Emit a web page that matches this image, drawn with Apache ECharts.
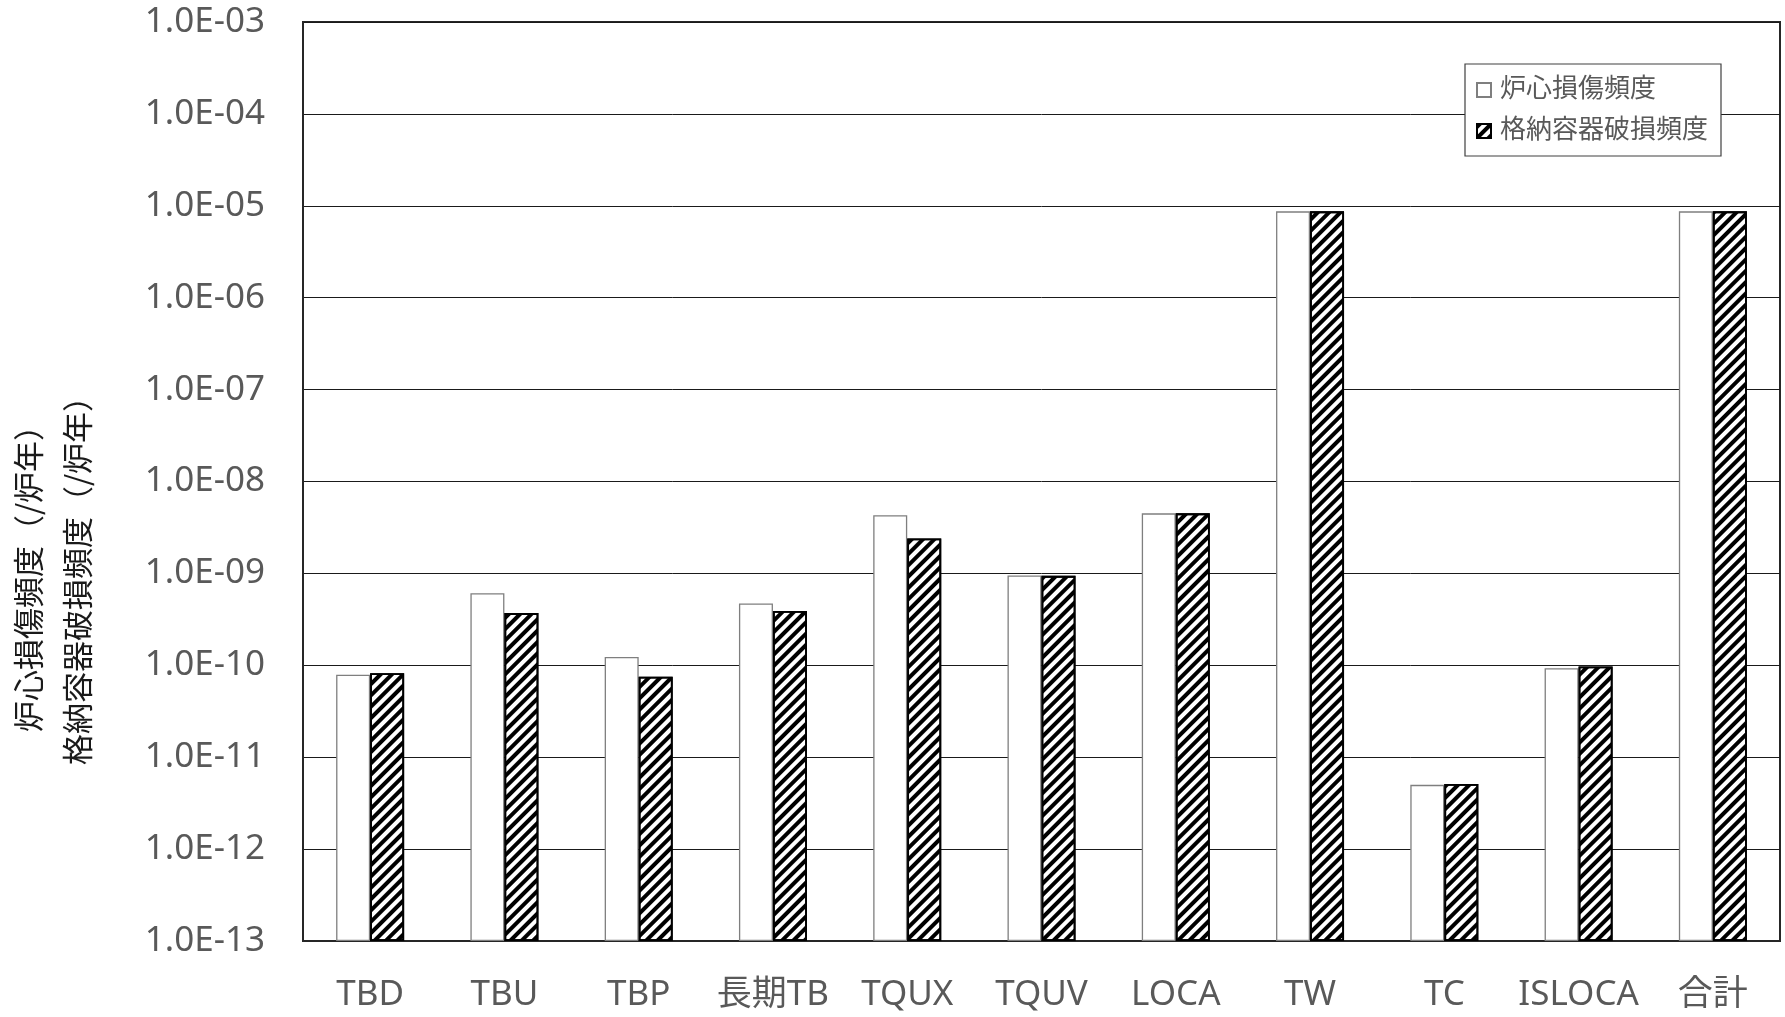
<!DOCTYPE html>
<html><head><meta charset="utf-8">
<script src="https://cdn.jsdelivr.net/npm/echarts@6/dist/echarts.min.js"></script>
<style>html,body{margin:0;padding:0;background:#fff}#c{width:1785px;height:1017px}</style>
</head><body><div id="c"></div>
<script>
// Data (per reactor-year)
const categories = ['TBD','TBU','TBP','長期TB','TQUX','TQUV','LOCA','TW','TC','ISLOCA','合計'];
const coreDamageFreq = [7.9e-11, 6.1e-10, 1.23e-10, 4.7e-10, 4.3e-9, 9.5e-10, 4.5e-9, 8.7e-6, 5.0e-12, 9.3e-11, 8.7e-6];
const containmentFailureFreq = [8.2e-11, 3.7e-10, 7.5e-11, 3.9e-10, 2.4e-9, 9.4e-10, 4.5e-9, 8.7e-6, 5.1e-12, 9.7e-11, 8.7e-6];
const seriesNames = ['炉心損傷頻度','格納容器破損頻度'];
const yAxisTitles = ['炉心損傷頻度（/炉年）','格納容器破損頻度（/炉年）'];
const axisFloor = 1e-13;   // bottom of the log axis
const axisCeil = 1e-3;     // top of the log axis

// bars on a log axis grow from value 1, so values are expressed relative to the floor
const rel = v => v / axisFloor;
const fmt = v => {
  const e = Math.round(Math.log10(v * axisFloor));
  return '1.0E' + (e < 0 ? '-' : '+') + String(Math.abs(e)).padStart(2, '0');
};

const FONT = "'Noto Sans', 'Noto Sans CJK JP', sans-serif";
const chart = echarts.init(document.getElementById('c'), null, {renderer: 'canvas'});
chart.setOption({
  animation: false,
  backgroundColor: '#ffffff',
  textStyle: {fontFamily: FONT},
  grid: {left: 303, top: 22, right: 5, bottom: 76, show: true, borderColor: '#262626', borderWidth: 2, backgroundColor: 'transparent'},
  legend: {
    orient: 'vertical', left: 1465, top: 64,
    padding: [13, 13, 12, 11], itemGap: 15,
    itemWidth: 14, itemHeight: 14, icon: 'rect',
    backgroundColor: '#fff', borderColor: '#404040', borderWidth: 1.2,
    textStyle: {fontSize: 26, color: '#595959', fontFamily: FONT, lineHeight: 26, padding: [0, 0, 0, 4]},
    data: seriesNames
  },
  xAxis: {
    type: 'category', data: categories,
    axisLine: {lineStyle: {color: '#262626', width: 2}},
    axisTick: {show: false},
    axisLabel: {fontSize: 35, color: '#595959', margin: 37, fontFamily: FONT, interval: 0},
    splitLine: {show: false}
  },
  yAxis: {
    type: 'log', logBase: 10, min: rel(axisFloor), max: rel(axisCeil), interval: 1, splitNumber: 10,
    axisLine: {show: true, lineStyle: {color: '#262626', width: 2}},
    axisTick: {show: false},
    axisLabel: {fontSize: 35, color: '#595959', margin: 38, fontFamily: FONT, formatter: fmt},
    splitLine: {show: true, lineStyle: {color: '#1a1a1a', width: 1}}
  },
  graphic: [
    {type: 'text', x: 28, y: 571, rotation: Math.PI / 2,
     style: {text: yAxisTitles[0], font: "31px 'Noto Sans CJK JP'", fill: '#1a1a1a', align: 'center', verticalAlign: 'middle'}},
    {type: 'text', x: 77, y: 573, rotation: Math.PI / 2,
     style: {text: yAxisTitles[1], font: "31px 'Noto Sans CJK JP'", fill: '#1a1a1a', align: 'center', verticalAlign: 'middle'}}
  ],
  series: [
    {name: seriesNames[0], type: 'bar', barWidth: 34, barGap: '0%',
     data: coreDamageFreq.map(rel),
     itemStyle: {color: '#ffffff', borderColor: '#7f7f7f', borderWidth: 1.3}},
    {name: seriesNames[1], type: 'bar', barWidth: 34, barGap: '0%',
     data: containmentFailureFreq.map(rel),
     itemStyle: {color: '#ffffff', borderColor: '#000000', borderWidth: 1.8,
       decal: {symbol: 'rect', color: '#000000', dashArrayX: [1, 0], dashArrayY: [3.4, 3.6], rotation: -Math.PI / 4}}}
  ]
});
</script>
</body></html>
